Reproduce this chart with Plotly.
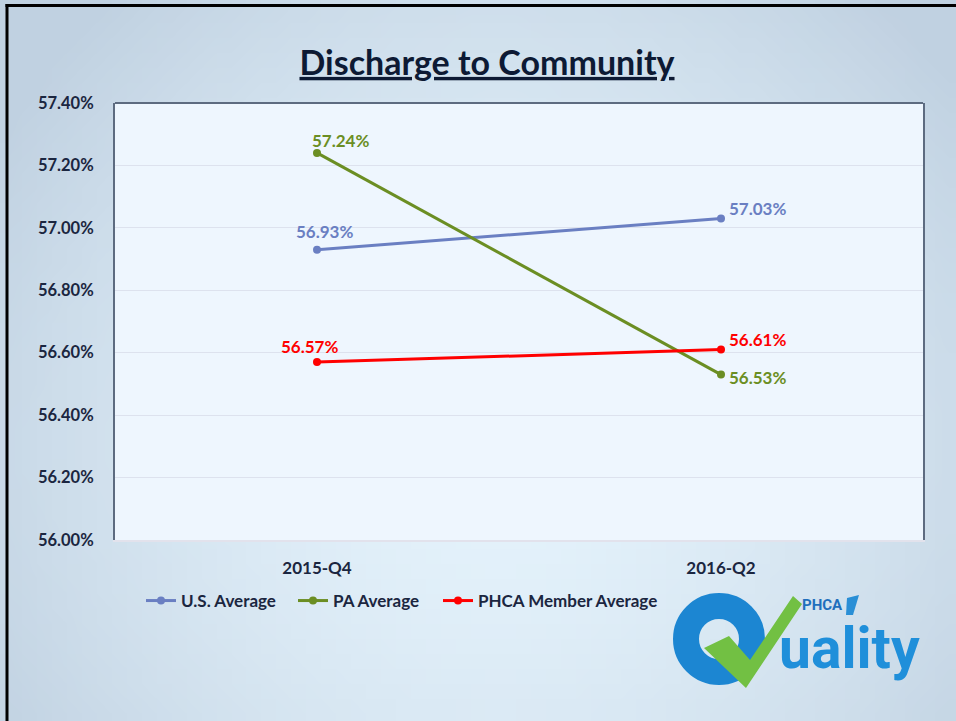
import base64, struct, zlib
import plotly.graph_objects as go

# ---------------- data ----------------
quarters = ["2015-Q4", "2016-Q2"]
us_avg = [56.93, 57.03]
pa_avg = [57.24, 56.53]
phca_avg = [56.57, 56.61]
series_names = ["U.S. Average", "PA Average", "PHCA Member Average"]
y_ticks = [56.0, 56.2, 56.4, 56.6, 56.8, 57.0, 57.2, 57.4]
y_tick_labels = ["56.00%", "56.20%", "56.40%", "56.60%", "56.80%", "57.00%", "57.20%", "57.40%"]

W, H = 956, 721
FONT = "Lato"
NAVY = "#1b2640"
BLUE = "#6a7fc2"
GREEN = "#6b8e23"
RED = "#ff0000"
FS = 17

# data-label placement (pixel offsets from each point, per series)
label_anchor = ["center", "left"]
label_dx = {"U.S. Average": [7, 6], "PA Average": [23, 6], "PHCA Member Average": [-8, 6]}
label_dy = {"U.S. Average": [18, 10], "PA Average": [12, -3], "PHCA Member Average": [16, 10]}


def PX(x):
    return x / W


def PY(y):
    return 1 - y / H


# ---------------- background gradient image ----------------
def gradient_png(w, h):
    light = (229, 243, 252)
    dark = (192, 209, 225)
    rows = []
    for j in range(h):
        row = bytearray([0])
        for i in range(w):
            u = i / (w - 1)
            v = j / (h - 1)
            t = (((u - 0.52) / 0.62) ** 2 + ((v - 0.62) / 0.85) ** 2) ** 0.5
            t = min(1.0, t) ** 1.6
            for c in range(3):
                row.append(int(round(light[c] + (dark[c] - light[c]) * t)))
        rows.append(bytes(row))
    raw = b"".join(rows)

    def chunk(tag, data):
        return (struct.pack(">I", len(data)) + tag + data +
                struct.pack(">I", zlib.crc32(tag + data) & 0xFFFFFFFF))

    png = b"\x89PNG\r\n\x1a\n"
    png += chunk(b"IHDR", struct.pack(">IIBBBBB", w, h, 8, 2, 0, 0, 0))
    png += chunk(b"IDAT", zlib.compress(raw, 9))
    png += chunk(b"IEND", b"")
    return "data:image/png;base64," + base64.b64encode(png).decode()


bg_src = gradient_png(64, 48)

# ---------------- figure ----------------
fig = go.Figure()

annotations = []
specs = [
    (us_avg, BLUE, "legend"),
    (pa_avg, GREEN, "legend2"),
    (phca_avg, RED, "legend3"),
]
for name, (vals, col, leg) in zip(series_names, specs):
    fig.add_trace(go.Scatter(
        x=quarters, y=vals, name=name, mode="lines+markers",
        line=dict(color=col, width=3), marker=dict(color=col, size=8),
        legend=leg, hoverinfo="skip",
    ))
    for i, (q, v) in enumerate(zip(quarters, vals)):
        annotations.append(dict(
            x=q, y=v, xref="x", yref="y", text=f"{v:.2f}%", showarrow=False,
            xanchor=label_anchor[i], yanchor="middle",
            xshift=label_dx[name][i], yshift=label_dy[name][i],
            font=dict(family=FONT, size=FS, color=col, weight="bold"),
        ))

shapes = [
    # plot area fill
    dict(type="rect", xref="x domain", yref="y domain", x0=0, x1=1, y0=0, y1=1,
         fillcolor="#eef6fe", line=dict(width=0), layer="below"),
    # top border of plot area
    dict(type="line", xref="x domain", yref="y domain", x0=0, x1=1, y0=1, y1=1,
         line=dict(color="#5d6b80", width=2), layer="above"),
    # slide border (left and top)
    dict(type="line", xref="paper", yref="paper", x0=PX(7), x1=PX(7), y0=0, y1=PY(4),
         line=dict(color="#000000", width=3)),
    dict(type="line", xref="paper", yref="paper", x0=PX(5.5), x1=1, y0=PY(5.5), y1=PY(5.5),
         line=dict(color="#000000", width=3)),
    # logo: Q ring
    dict(type="circle", xref="paper", yref="paper",
         x0=PX(686), x1=PX(752), y0=PY(606), y1=PY(672),
         line=dict(color="#1c86d2", width=26), fillcolor="rgba(0,0,0,0)"),
    # logo: check mark
    dict(type="path", xref="paper", yref="paper",
         path=("M {:.5f},{:.5f} L {:.5f},{:.5f} L {:.5f},{:.5f} L {:.5f},{:.5f} "
               "L {:.5f},{:.5f} L {:.5f},{:.5f} Z").format(
             PX(704), PY(648), PX(729), PY(636), PX(750), PY(660),
             PX(793), PY(596), PX(802), PY(604), PX(746), PY(688)),
         fillcolor="#72c043", line=dict(width=0)),
    # logo: PHCA mark
    dict(type="path", xref="paper", yref="paper",
         path=("M {:.5f},{:.5f} L {:.5f},{:.5f} L {:.5f},{:.5f} L {:.5f},{:.5f} Z").format(
             PX(847), PY(598), PX(859), PY(595), PX(853), PY(615), PX(846), PY(615)),
         fillcolor="#2a8fd6", line=dict(width=0)),
]

annotations += [
    dict(text="uality", xref="paper", yref="paper", x=PX(777), y=PY(684),
         xanchor="left", yanchor="bottom", showarrow=False,
         font=dict(family="Roboto", size=57, color="#1f8fda", weight="bold")),
    dict(text="<b>PHCA</b>", xref="paper", yref="paper", x=PX(800), y=PY(605),
         xanchor="left", yanchor="middle", showarrow=False,
         font=dict(family="Roboto", size=15, color="#1f6fbd")),
]

leg_common = dict(orientation="h", yanchor="middle", y=PY(601), xanchor="left",
                  bgcolor="rgba(0,0,0,0)", font=dict(family=FONT, size=FS, color=NAVY),
                  itemwidth=30)

fig.update_layout(
    width=W, height=H,
    margin=dict(l=0, r=0, t=0, b=0),
    paper_bgcolor="#dde9f4",
    plot_bgcolor="rgba(0,0,0,0)",
    font=dict(family=FONT, color=NAVY, size=FS, weight="bold"),
    title=dict(text="<u>Discharge to Community</u>", x=PX(487), y=PY(63),
               xanchor="center", yanchor="middle", xref="paper", yref="paper",
               font=dict(family=FONT, size=34, color="#0d1a34", weight="bold")),
    images=[dict(source=bg_src, xref="paper", yref="paper", x=0, y=1, sizex=1, sizey=1,
                 xanchor="left", yanchor="top", sizing="stretch", layer="below")],
    shapes=shapes,
    annotations=annotations,
    showlegend=True,
    legend=dict(x=PX(141), **leg_common),
    legend2=dict(x=PX(293), **leg_common),
    legend3=dict(x=PX(438), **leg_common),
    xaxis=dict(domain=[PX(115), PX(923)], range=[-0.5, 1.5], type="category",
               showgrid=False, zeroline=False, showline=True, linecolor="#e2e2ec",
               linewidth=2, ticks="", ticklabelstandoff=12, automargin=False,
               tickfont=dict(family=FONT, size=FS, color=NAVY)),
    yaxis=dict(domain=[PY(540), PY(103)], range=[56.0, 57.4], tickvals=y_ticks,
               ticktext=y_tick_labels, showgrid=True, gridcolor="#dde2ee",
               gridwidth=1, zeroline=False, showline=True, mirror=True,
               linecolor="#5d6b80", linewidth=2, ticks="", ticklabelstandoff=16,
               automargin=False, tickfont=dict(family=FONT, size=16.5, color=NAVY)),
)

fig.write_html("out.html", config={"displayModeBar": False},
               post_script="document.body.style.margin='0';")
